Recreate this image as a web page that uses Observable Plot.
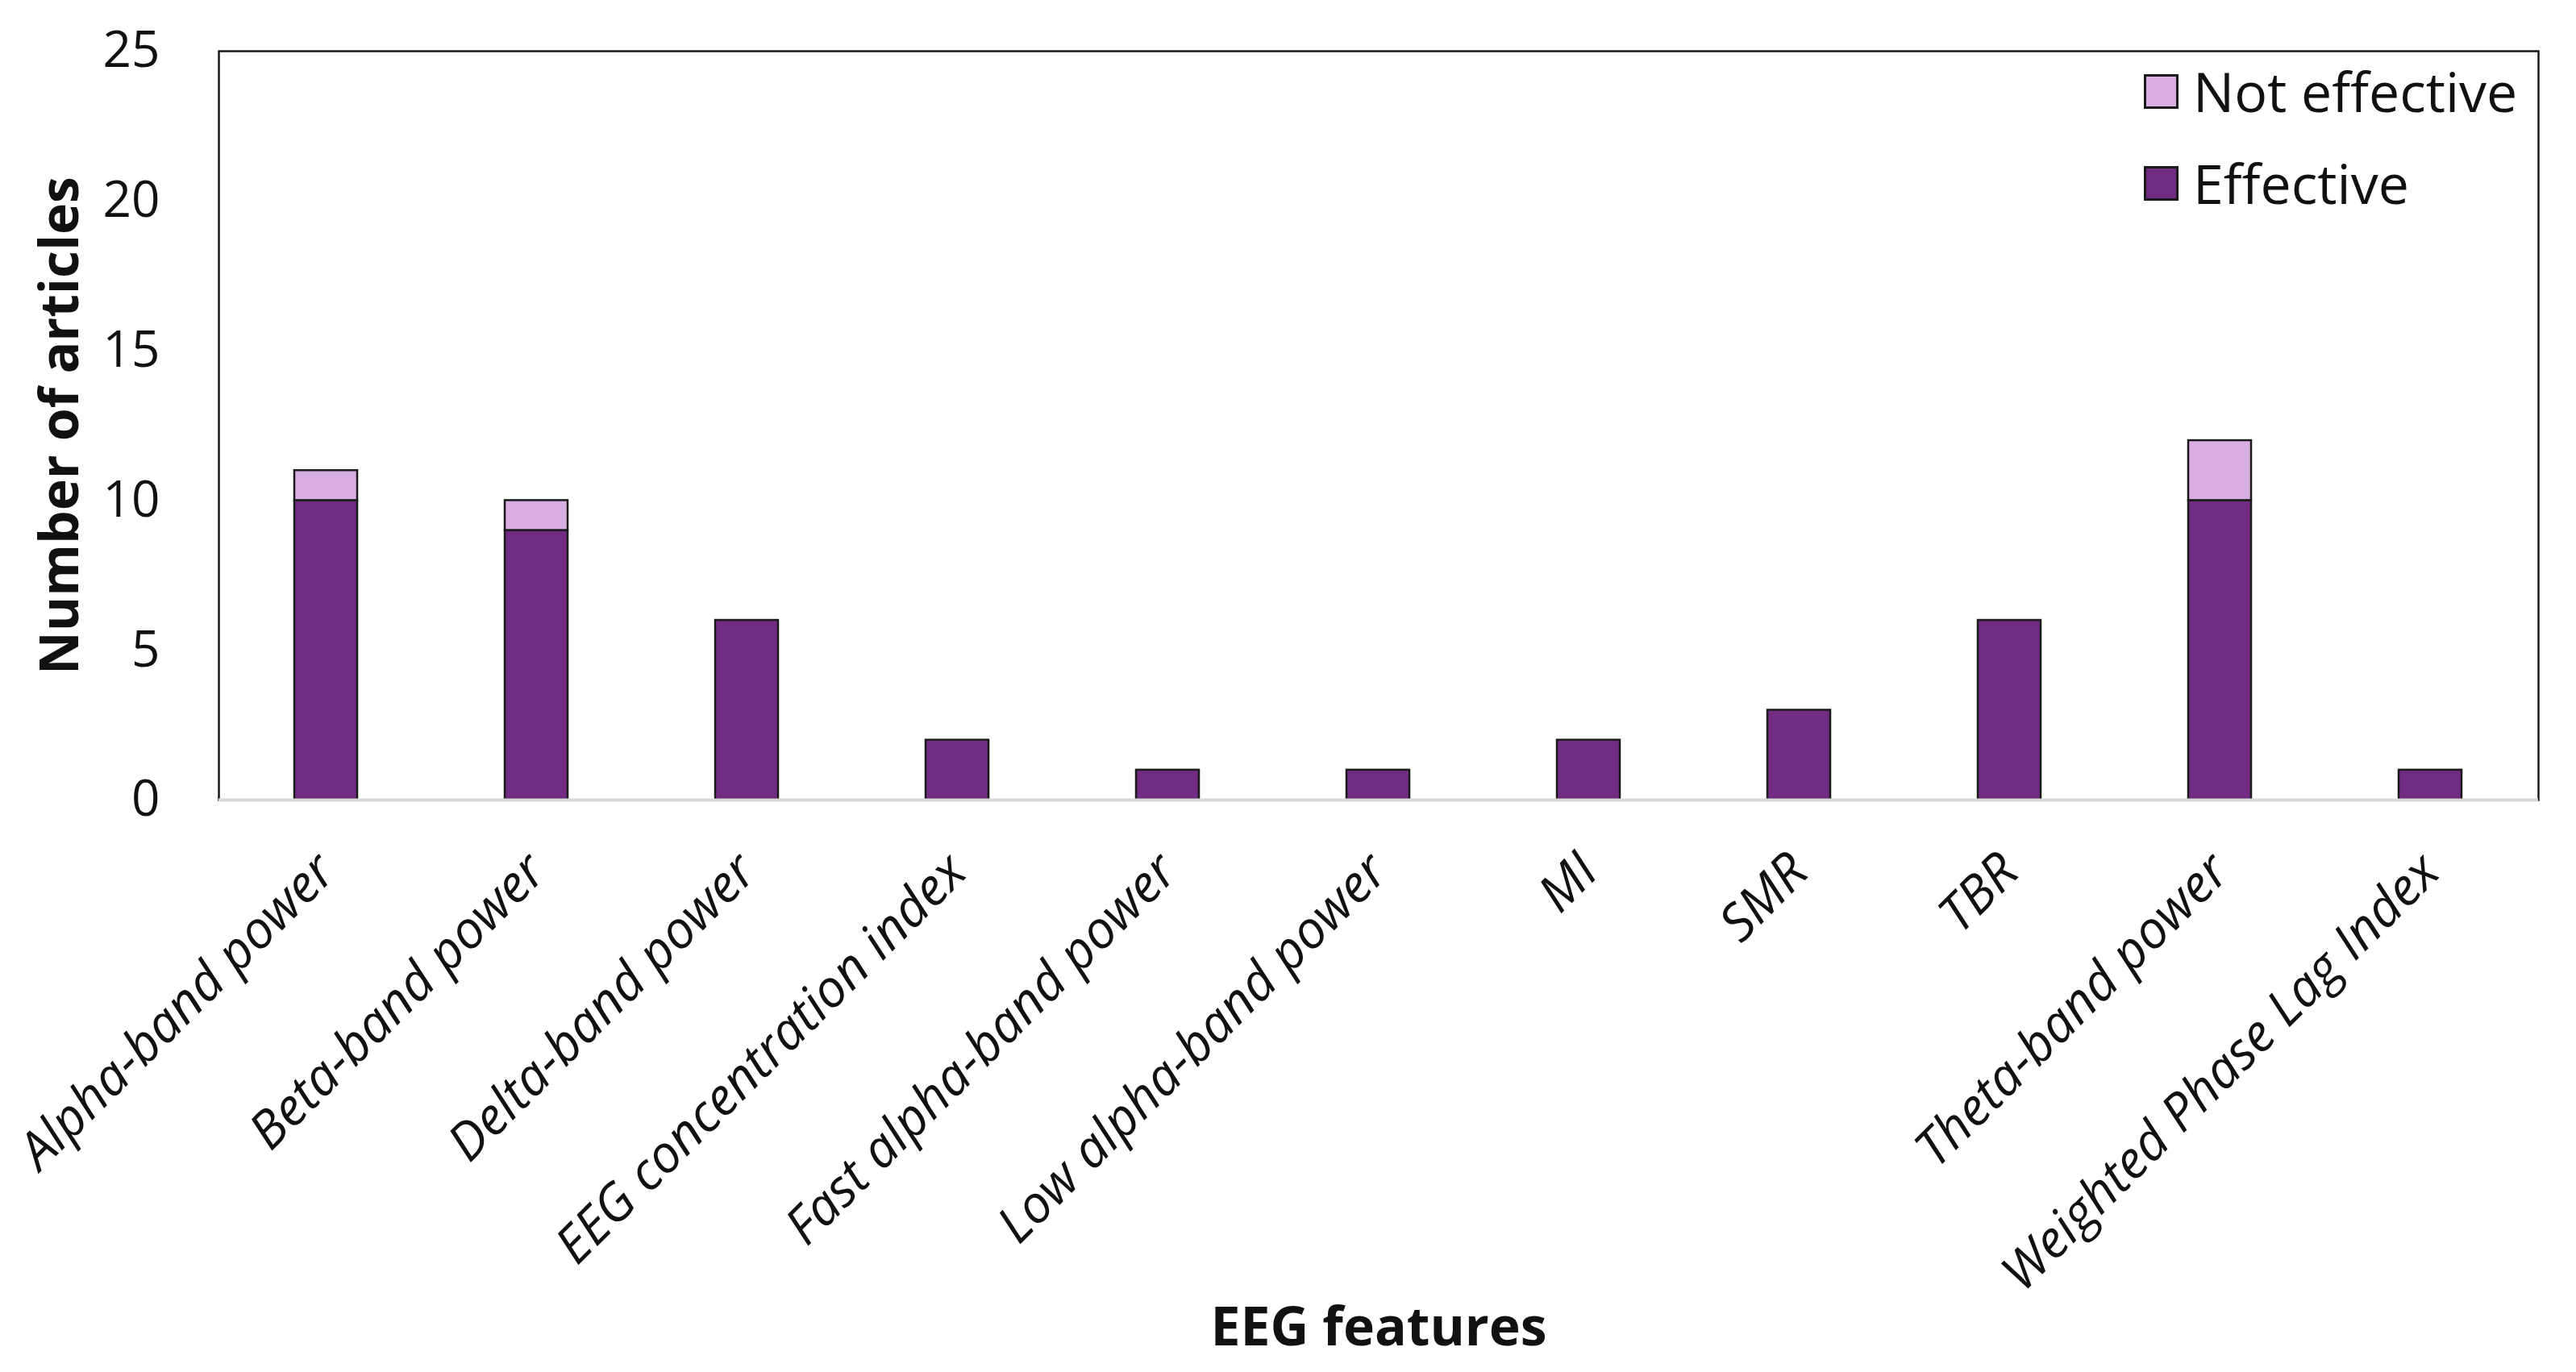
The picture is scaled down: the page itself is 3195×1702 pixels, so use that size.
<!DOCTYPE html>
<html>
<head>
<meta charset="utf-8">
<script src="https://cdn.jsdelivr.net/npm/d3@7"></script>
<script src="https://cdn.jsdelivr.net/npm/@observablehq/plot@0.6"></script>
<style>
  html, body { margin: 0; padding: 0; background: #fff; }
  #wrap { position: relative; width: 3195px; height: 1702px; font-family: "Open Sans", sans-serif; }
  #legend { position: absolute; left: 2659px; top: 84px; font-size: 68px; color: #111; line-height: 1; }
  .row { display: flex; align-items: center; height: 58px; margin-bottom: 56px; }
  .sw { width: 37px; height: 37px; border: 3px solid #1a1a1a; margin-right: 18px; box-sizing: content-box; }
</style>
</head>
<body>
<div id="wrap"></div>
<script>
const categories = ["Alpha-band power","Beta-band power","Delta-band power","EEG concentration index","Fast alpha-band power","Low alpha-band power","MI","SMR","TBR","Theta-band power","Weighted Phase Lag Index"];
const effective    = [10, 9, 6, 2, 1, 1, 2, 3, 6, 10, 1];
const notEffective = [ 1, 1, 0, 0, 0, 0, 0, 0, 0,  2, 0];
const seriesNames = ["Effective", "Not effective"];
const seriesColors = ["#722B82", "#D8ADE1"];
const yTicks = [0, 5, 10, 15, 20, 25];
const xTitle = "EEG features";
const yTitle = "Number of articles";

const rows = [];
categories.forEach((c, i) => { if (effective[i] > 0) rows.push({feature: c, series: seriesNames[0], value: effective[i]}); });
categories.forEach((c, i) => { if (notEffective[i] > 0) rows.push({feature: c, series: seriesNames[1], value: notEffective[i]}); });

const chart = Plot.plot({
  width: 3195,
  height: 1702,
  marginLeft: 271,
  marginTop: 63,
  marginRight: 47,
  marginBottom: 710,
  style: { fontFamily: "Open Sans, sans-serif", color: "#111", background: "#fff" },
  x: { domain: categories, paddingInner: 0.7, paddingOuter: 0.35, align: 0.5 },
  y: { domain: [0, 25] },
  color: { domain: seriesNames, range: seriesColors },
  marks: [
    Plot.barY(rows, Plot.stackY({ x: "feature", y: "value", z: "series", fill: "series", order: seriesNames, stroke: "#1a1a1a", strokeWidth: 2.5 })),
    Plot.frame({ stroke: "#1a1a1a", strokeWidth: 2.5 }),
    Plot.ruleY([0], { stroke: "#d9d9d9", strokeWidth: 4 }),
    Plot.axisY({ ticks: yTicks, tickSize: 0, tickPadding: 73, fontSize: 62, label: null, tickFormat: d => String(d) }),
    Plot.axisX({ tickRotate: -45, tickSize: 0, tickPadding: 78, fontSize: 64, fontStyle: "italic", label: null }),
    Plot.text([yTitle], { frameAnchor: "left", rotate: -90, dx: -196, textAnchor: "middle", lineAnchor: "middle", fontWeight: "bold", fontSize: 66, fill: "#111" }),
    Plot.text([xTitle], { frameAnchor: "bottom", dy: 655, textAnchor: "middle", lineAnchor: "middle", fontWeight: "bold", fontSize: 66, fill: "#111" })
  ]
});
const wrap = document.getElementById("wrap");
wrap.appendChild(chart);

const legend = document.createElement("div");
legend.id = "legend";
[1, 0].forEach(i => {
  const row = document.createElement("div");
  row.className = "row";
  const sw = document.createElement("div");
  sw.className = "sw";
  sw.style.background = seriesColors[i];
  const t = document.createElement("span");
  t.textContent = seriesNames[i];
  row.appendChild(sw); row.appendChild(t);
  legend.appendChild(row);
});
wrap.appendChild(legend);
</script>
</body>
</html>
